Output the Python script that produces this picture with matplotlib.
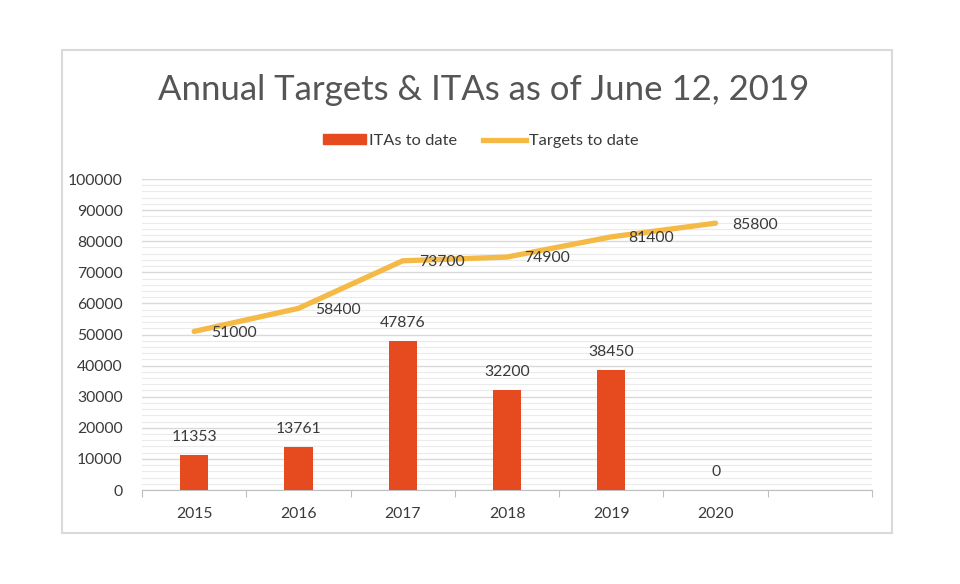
import matplotlib.pyplot as plt
from matplotlib.patches import Rectangle
from matplotlib.lines import Line2D
from matplotlib.ticker import MultipleLocator

plt.rcParams['font.family'] = ['Lato', 'DejaVu Sans']

# chart data
years = ['2015', '2016', '2017', '2018', '2019', '2020', '']
itas = [11353, 13761, 47876, 32200, 38450, 0]
targets = [51000, 58400, 73700, 74900, 81400, 85800]

bar_col = '#E64A1F'
line_col = '#F5B945'
txt_col = '#3A3A3A'

fig = plt.figure(figsize=(9.6, 5.84), dpi=100)
fig.patch.set_facecolor('white')

# outer chart border
fig.patches.append(Rectangle((62/960, 1-533/584), 830/960, 483/584, transform=fig.transFigure,
                             fill=False, edgecolor='#D9D9D9', lw=1.5))

ax = fig.add_axes([142/960, 1-490/584, 730/960, 311/584])
x = list(range(len(years)))

ax.bar(x[:len(itas)], itas, width=0.27, color=bar_col, zorder=3)
for i, v in enumerate(itas):
    ax.annotate(str(v), (i, v), xytext=(0, 13), textcoords='offset points',
                ha='center', va='center', fontsize=11.3, color=txt_col)

ax.plot(x[:len(targets)], targets, color=line_col, lw=3.8, solid_capstyle='round',
        solid_joinstyle='round', zorder=4)
for i, v in enumerate(targets):
    ax.annotate(str(v), (i, v), xytext=(12, -1), textcoords='offset points',
                ha='left', va='center', fontsize=11.3, color=txt_col, zorder=5)

ax.set_xlim(-0.5, len(years) - 0.5)
ax.set_ylim(0, 100000)
ax.yaxis.set_major_locator(MultipleLocator(10000))
ax.yaxis.set_minor_locator(MultipleLocator(2000))
ax.grid(axis='y', which='major', color='#D9D9D9', lw=1.0, zorder=0)
ax.grid(axis='y', which='minor', color='#EBEBEB', lw=0.8, zorder=0)
ax.tick_params(axis='y', which='both', length=0, labelsize=11.3, labelcolor=txt_col, pad=14)

ax.set_xticks([i - 0.5 for i in range(len(years) + 1)], minor=False)
ax.set_xticklabels([])
ax.set_xticks(x, minor=True)
ax.set_xticklabels(years, minor=True)
ax.tick_params(axis='x', which='major', length=5, color='#BFBFBF', direction='out')
ax.tick_params(axis='x', which='minor', length=0, labelsize=11.3, labelcolor=txt_col, pad=12)

for s in ['top', 'right', 'left']:
    ax.spines[s].set_visible(False)
ax.spines['bottom'].set_color('#BFBFBF')

fig.text(484/960, 1-90/584, 'Annual Targets & ITAs as of June 12, 2019', ha='center', va='center',
         fontsize=25, color='#555555')

handles = [Rectangle((0, 0), 1, 1, color=bar_col),
           Line2D([0], [0], color=line_col, lw=3.8)]
fig.legend(handles, ['ITAs to date', 'Targets to date'], loc='center', bbox_to_anchor=(481/960, 1-141/584),
           ncol=2, frameon=False, fontsize=11.8, labelcolor=txt_col, handlelength=2.6, handleheight=0.6,
           handletextpad=0.2, columnspacing=1.6)

fig.savefig('out.png', dpi=100, facecolor='white')
